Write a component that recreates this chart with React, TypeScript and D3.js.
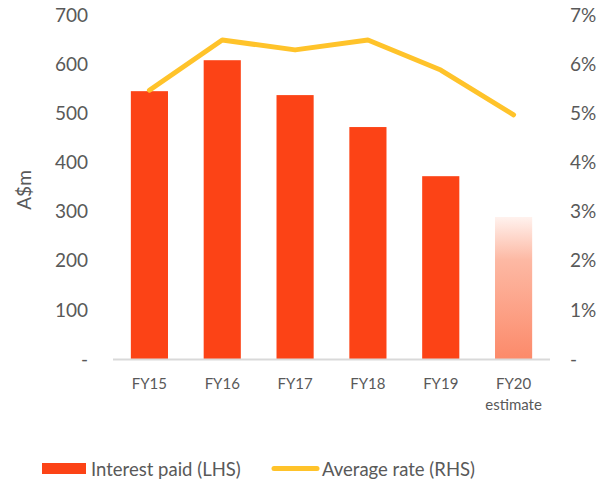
import React from "react";
import * as d3 from "d3";

const categories = ["FY15", "FY16", "FY17", "FY18", "FY19", "FY20"];
const subLabels = ["", "", "", "", "", "estimate"];
const interestPaid = [545, 608, 537, 472, 372, 289];
const averageRate = [5.47, 6.49, 6.29, 6.49, 5.88, 4.97];
const leftTicks = [0, 100, 200, 300, 400, 500, 600, 700];
const rightTicks = [0, 1, 2, 3, 4, 5, 6, 7];

const W = 609, H = 481;
const FONT = "Lato, 'Open Sans', sans-serif";
const GRAY = "#595959";

export default function App() {
  const x = d3.scaleBand<string>().domain(categories).range([113, 550]).paddingInner(0.49).paddingOuter(0.245);
  const yL = d3.scaleLinear().domain([0, 700]).range([359, 15]);
  const yR = d3.scaleLinear().domain([0, 7]).range([359, 15]);
  const line = d3.line<number>()
    .x((_, i) => (x(categories[i]) as number) + x.bandwidth() / 2)
    .y((d) => yR(d));
  return (
    <svg width={W} height={H} style={{ position: "absolute", left: 0, top: 0 }}>
      <defs>
        <linearGradient id="est" x1="0" y1="0" x2="0" y2="1">
          <stop offset="0" stopColor="#fff2ee" />
          <stop offset="0.3" stopColor="#fdb9a4" />
          <stop offset="1" stopColor="#fc8a6a" />
        </linearGradient>
      </defs>
      <rect width={W} height={H} fill="#fff" />
      {leftTicks.map((t) => (
        <text key={"l" + t} x={88} y={yL(t)} dy="0.35em" textAnchor="end" fontFamily={FONT} fontSize={19} fill={GRAY}>
          {t === 0 ? "-" : t}
        </text>
      ))}
      {rightTicks.map((t) => (
        <text key={"r" + t} x={570} y={yR(t)} dy="0.35em" textAnchor="start" fontFamily={FONT} fontSize={19} fill={GRAY}>
          {t === 0 ? "-" : t + "%"}
        </text>
      ))}
      <text transform={`translate(31,190) rotate(-90)`} textAnchor="middle" fontFamily={FONT} fontSize={19} fill={GRAY}>A$m</text>
      {interestPaid.map((v, i) => (
        <rect key={categories[i]} x={x(categories[i])} y={yL(v)} width={x.bandwidth()} height={yL(0) - yL(v)}
          fill={i === 5 ? "url(#est)" : "#fc4316"} />
      ))}
      <line x1={113} x2={550} y1={359.5} y2={359.5} stroke="#d9d9d9" strokeWidth={2} />
      <path d={line(averageRate) || ""} fill="none" stroke="#ffc32a" strokeWidth={5} strokeLinecap="round" strokeLinejoin="round" />
      {categories.map((c, i) => (
        <g key={"c" + c}>
          <text x={(x(c) as number) + x.bandwidth() / 2} y={389} textAnchor="middle" fontFamily={FONT} fontSize={15} fill={GRAY}>{c}</text>
          {subLabels[i] && (
            <text x={(x(c) as number) + x.bandwidth() / 2} y={410} textAnchor="middle" fontFamily={FONT} fontSize={15} fill={GRAY}>{subLabels[i]}</text>
          )}
        </g>
      ))}
      <rect x={42} y={463} width={44} height={11} fill="#fc4316" />
      <text x={91} y={476} fontFamily={FONT} fontSize={18.5} fill={GRAY}>Interest paid (LHS)</text>
      <line x1={274} x2={317} y1={468.5} y2={468.5} stroke="#ffc32a" strokeWidth={5} strokeLinecap="round" />
      <text x={322} y={476} fontFamily={FONT} fontSize={18.5} fill={GRAY}>Average rate (RHS)</text>
    </svg>
  );
}
